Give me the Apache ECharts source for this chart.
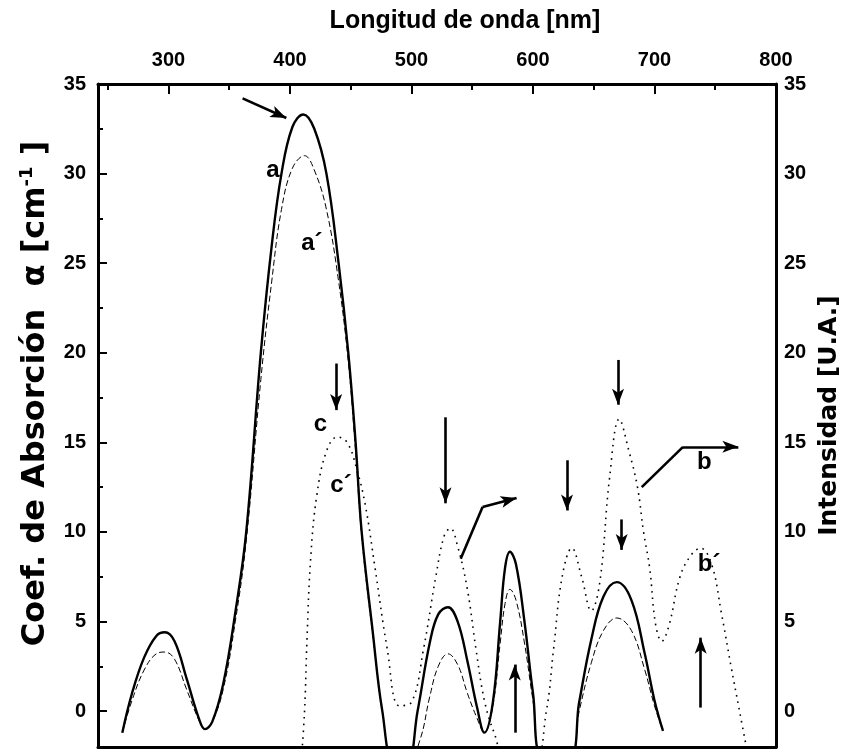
<!DOCTYPE html>
<html><head><meta charset="utf-8">
<script src="https://cdn.jsdelivr.net/npm/echarts@6/dist/echarts.min.js"></script>
<style>html,body{margin:0;padding:0;background:#fff}#c{width:842px;height:750px}</style>
</head><body><div id="c"></div>
<script>
const SANS = '"Liberation Sans",Arial,sans-serif';
const WIDE = '"DejaVu Sans",Verdana,sans-serif';

// axis ticks / labels
const xTickLabels = [300, 400, 500, 600, 700, 800];
const xMinorTicks = [250, 350, 450, 550, 650, 750];
const yTickLabels = [0, 5, 10, 15, 20, 25, 30, 35];
const yMinorTicks = [2.5, 7.5, 12.5, 17.5, 22.5, 27.5, 32.5];

// curve a (absorption, solid)
const aWave = [262,270,280,290,297,305,315,325,330,336,345,355,364,376,385,393,402,411,420,430,440,448,454,459,468,476,486,496,505,515,522,530,538,546,554,560,567,573,577,581,586,593,600,608,630,638,648,658,669,681,692,700,707];
const aVal  = [-1.2,1.0,3.0,4.2,4.4,3.9,1.8,-0.4,-1.0,-0.6,1.5,5.5,10,20,26,30,32.6,33.3,32.5,30,25,20,15,10,4.5,0,-3,-3,0,3.8,5.4,5.8,5.0,2.8,0.2,-1.2,0.5,5,8,8.9,8.2,5,1,-2.5,-2.5,0.5,4,6.4,7.2,6.2,3.2,0.6,-1.1];

// curve a' (absorption, dashed)
const a2Wave = [262,270,280,290,297,305,315,325,330,336,345,355,364,376,385,393,402,412,420,430,440,448,454,459,468,476,486,496,507,515,522,530,538,546,554,560,567,573,577,581,586,593,600,608,630,638,648,658,669,681,692,700,707];
const a2Val  = [-1.2,0.6,2.3,3.2,3.3,2.9,1.2,-0.5,-1.0,-0.6,1.2,5,9.5,18.5,24,28,30.3,31,30.2,28,24,19.5,14.5,9.8,4.3,0,-3,-3,-1.6,0.8,2.5,3.2,2.6,1.0,-0.4,-1.2,0.3,3.8,6.0,6.8,6.2,3.8,0.6,-2.5,-2.5,0.0,2.7,4.5,5.2,4.5,2.3,0.3,-1.1];

// emission curve (dotted, right axis)
const eWave = [409,412,414,417,422,430,439,447,455,462,470,480,490,500,510,520,527,532,538,546,553,560,568,580,600,611,617,624,632,640,648,655,663,671,679,686,691,696,701,706,712,721,730,738,747,755,763,770,777];
const eVal  = [-3,0,4,8.5,12,14.5,15.3,15.0,13.5,11.5,8,3.5,0.3,0.5,3.5,7.5,9.8,10.2,9.2,6.8,3.5,0.6,-1.2,-3,-3,0,3.5,7.5,9.1,7.5,5.6,7.2,13,16.3,14.5,12.5,10,8,4.8,3.9,4.8,7.5,8.7,9.1,8.2,5.5,2.5,0,-2.5];

// curve labels
const labelNames = ['a', 'a\u00b4', 'c', 'c\u00b4', 'b', 'b\u00b4'];
const labelWave  = [386, 418, 425, 442, 741, 745];
const labelVal   = [30.2, 26.1, 16.0, 12.6, 13.9, 8.2];

// annotation arrows: polylines in [wavelength, value]
const arrowPaths = [
  [[361, 34.2], [397, 33.1]],
  [[438, 19.4], [438, 16.8]],
  [[528, 16.4], [528, 11.6]],
  [[540.5, 8.5], [558.5, 11.4], [586.5, 11.9]],
  [[628, 14.0], [628, 11.2]],
  [[670, 19.6], [670, 17.1]],
  [[673, 10.7], [673, 9.0]],
  [[689.5, 12.5], [723.5, 14.75], [769, 14.75]],
  [[585, -1.2], [585, 2.6]],
  [[738, 0.2], [738, 4.1]]
];

const zip = (xs, ys) => xs.map((x, i) => [x, ys[i]]);

const markData = [];
arrowPaths.forEach(p => {
  for (let i = 0; i < p.length - 1; i++) {
    markData.push([
      { coord: p[i], symbol: 'none' },
      { coord: p[i + 1], symbol: i === p.length - 2 ? 'arrow' : 'none', symbolSize: [9, 16] }
    ]);
  }
});

const tickLabelStyle = { fontFamily: SANS, fontWeight: 'bold', fontSize: 20, color: '#000' };
const lineStyleAxis = { color: '#000', width: 3 };
const tickLine = { width: 2, color: '#000' };

const chart = echarts.init(document.getElementById('c'), null, { renderer: 'canvas' });
chart.setOption({
  backgroundColor: '#fff',
  animation: false,
  title: {
    text: 'Longitud de onda [nm]',
    left: 460, top: 4, textAlign: 'center',
    textStyle: { fontFamily: SANS, fontWeight: 'bold', fontSize: 25, color: '#000' }
  },
  grid: { left: 98, right: 66, top: 84, bottom: 3, outerBoundsMode: 'none' },
  xAxis: [
    {
      type: 'value', position: 'top', min: 242, max: 800,
      axisLine: { show: true, onZero: false, lineStyle: lineStyleAxis },
      axisTick: { show: true, inside: true, length: 10, customValues: xTickLabels, lineStyle: tickLine },
      axisLabel: { show: true, customValues: xTickLabels, margin: 14, ...tickLabelStyle },
      splitLine: { show: false }
    },
    {
      type: 'value', position: 'top', min: 242, max: 800,
      axisLine: { show: false, onZero: false },
      axisTick: { show: true, inside: true, length: 6, customValues: xMinorTicks, lineStyle: tickLine },
      axisLabel: { show: false },
      splitLine: { show: false }
    },
    {
      type: 'value', position: 'bottom', min: 242, max: 800,
      axisLine: { show: true, onZero: false, lineStyle: lineStyleAxis },
      axisTick: { show: false }, axisLabel: { show: false }, splitLine: { show: false }
    }
  ],
  yAxis: [
    {
      type: 'value', position: 'left', min: -2, max: 35,
      name: '{t|Coef. de Absorción  \u03b1 [cm}{s|-1}{t| ]}',
      nameLocation: 'middle', nameGap: 44, nameRotate: 90,
      nameTextStyle: {
        padding: [0, 0, 0, 44],
        rich: {
          t: { fontFamily: WIDE, fontWeight: 'bold', fontSize: 32, color: '#000', lineHeight: 36 },
          s: { fontFamily: WIDE, fontWeight: 'bold', fontSize: 18, color: '#000', verticalAlign: 'top', lineHeight: 36 }
        }
      },
      axisLine: { show: true, onZero: false, lineStyle: lineStyleAxis },
      axisTick: { show: true, inside: true, length: 9, customValues: yTickLabels, lineStyle: tickLine },
      axisLabel: { show: true, customValues: yTickLabels, margin: 12, ...tickLabelStyle },
      splitLine: { show: false }
    },
    {
      type: 'value', position: 'right', min: -2, max: 35,
      name: 'Intensidad [U.A.]',
      nameLocation: 'middle', nameGap: 41, nameRotate: 90,
      nameTextStyle: { fontFamily: WIDE, fontWeight: 'bold', fontSize: 25, color: '#000' },
      axisLine: { show: true, onZero: false, lineStyle: lineStyleAxis },
      axisTick: { show: false },
      axisLabel: { show: true, customValues: yTickLabels, margin: 8, ...tickLabelStyle },
      splitLine: { show: false }
    },
    {
      type: 'value', position: 'left', min: -2, max: 35,
      axisLine: { show: false, onZero: false },
      axisTick: { show: true, inside: true, length: 5, customValues: yMinorTicks, lineStyle: tickLine },
      axisLabel: { show: false }, splitLine: { show: false }
    }
  ],
  series: [
    {
      name: 'a', type: 'line', data: zip(aWave, aVal), smooth: 0.4, showSymbol: false, clip: true,
      lineStyle: { color: '#000', width: 2.4 }, silent: true
    },
    {
      name: "a'", type: 'line', data: zip(a2Wave, a2Val), smooth: 0.4, showSymbol: false, clip: true,
      lineStyle: { color: '#000', width: 1, type: [6, 3] }, silent: true
    },
    {
      name: 'emision', type: 'line', yAxisIndex: 1, data: zip(eWave, eVal), smooth: 0.4, showSymbol: false, clip: true,
      lineStyle: { color: '#000', width: 1.6, type: [1.6, 5] }, silent: true
    },
    {
      name: 'labels', type: 'scatter', symbol: 'circle', symbolSize: 0.5,
      itemStyle: { color: '#fff', opacity: 1 }, silent: true,
      emphasis: { disabled: true },
      data: labelNames.map((n, i) => ({ name: n, value: [labelWave[i], labelVal[i]] })),
      label: { show: true, position: 'inside', formatter: '{b}', fontFamily: SANS, fontWeight: 'bold', fontSize: 24, color: '#000', opacity: 1 },
      z: 5
    },
    {
      name: 'arrows', type: 'line', data: [], silent: true,
      markLine: {
        silent: true, animation: false,
        symbol: ['none', 'arrow'],
        label: { show: false },
        lineStyle: { color: '#000', width: 2.6, type: 'solid' },
        emphasis: { disabled: true },
        data: markData
      }
    }
  ]
});
</script>
</body></html>
